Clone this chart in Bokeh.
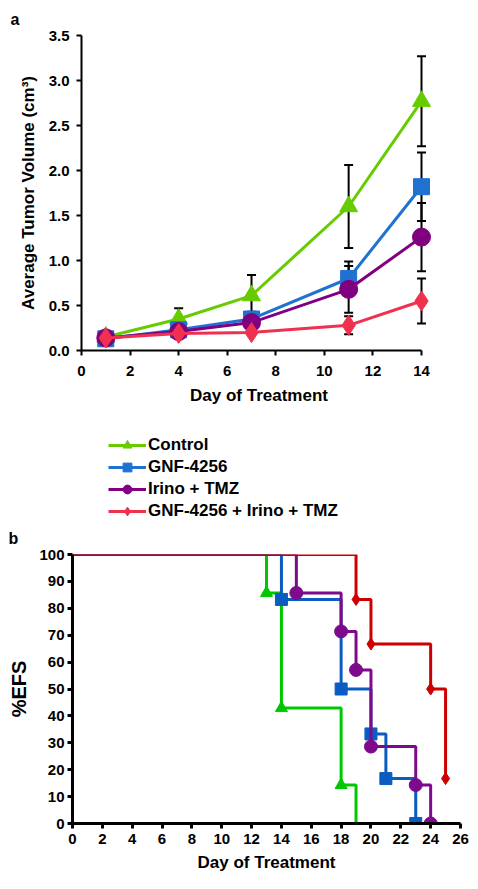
from bokeh.plotting import figure
from bokeh.models import (Legend, LegendItem, Whisker, ColumnDataSource, TeeHead,
                          FixedTicker, Range1d, NumeralTickFormatter)
from bokeh.layouts import column
from bokeh.embed import file_html
from bokeh.resources import INLINE

# ---------------- data: panel a (tumor volume) ----------------
days = [1, 4, 7, 11, 14]
series_names = ["Control", "GNF-4256", "Irino + TMZ", "GNF-4256 + Irino + TMZ"]
vol_control = [0.15, 0.35, 0.61, 1.60, 2.77]
err_control = [0.03, 0.12, 0.23, 0.46, 0.50]
vol_gnf = [0.13, 0.23, 0.35, 0.80, 1.82]
err_gnf = [0.02, 0.05, 0.08, 0.19, 0.38]
vol_irino = [0.14, 0.21, 0.31, 0.68, 1.26]
err_irino = [0.02, 0.04, 0.07, 0.26, 0.38]
vol_combo = [0.14, 0.19, 0.20, 0.28, 0.55]
err_combo = [0.02, 0.03, 0.04, 0.10, 0.25]
a_xticks = [0, 2, 4, 6, 8, 10, 12, 14]
a_yticks = [0.0, 0.5, 1.0, 1.5, 2.0, 2.5, 3.0, 3.5]

# ---------------- data: panel b (%EFS) ----------------
ctrl_t = [0, 13, 14, 18, 19]
ctrl_s = [100, 85.7, 42.9, 14.3, 0]
ctrl_marked = [False, True, True, True, False]
gnf_t = [0, 14, 18, 20, 21, 23]
gnf_s = [100, 83.3, 50, 33.3, 16.7, 0]
gnf_marked = [False, True, True, True, True, True]
irino_t = [0, 15, 18, 19, 20, 23, 24]
irino_s = [100, 85.7, 71.4, 57.1, 28.6, 14.3, 0]
irino_marked = [False, True, True, True, True, True, True]
combo_t = [0, 19, 20, 24, 25]
combo_s = [100, 83.3, 66.7, 50, 16.7]
combo_marked = [False, True, True, True, True]
b_xticks = list(range(0, 27, 2))
b_yticks = list(range(0, 101, 10))

FONT = "Liberation Sans"
colors_a = ["#66cc00", "#1f72d0", "#800080", "#f0304f"]
colors_b = ["#00c800", "#0a5cc0", "#7d0a8c", "#cc0000"]
markers = ["triangle", "square", "circle", "diamond"]


def style_axes(p, lw):
    for ax in (p.xaxis[0], p.yaxis[0]):
        ax.axis_line_width = lw
        ax.axis_line_color = "black"
        ax.major_tick_line_width = lw
        ax.major_tick_line_color = "black"
        ax.major_tick_in = 0
        ax.major_tick_out = 5
        ax.minor_tick_line_color = None
        ax.major_label_text_font = FONT
        ax.major_label_text_font_style = "bold"
        ax.major_label_text_font_size = "15px"
        ax.major_label_text_color = "black"
        ax.axis_label_text_font = FONT
        ax.axis_label_text_font_style = "bold"
        ax.axis_label_text_font_size = "17px"
        ax.axis_label_text_color = "black"
    p.xgrid.visible = False
    p.ygrid.visible = False
    p.outline_line_color = None
    p.title.text_font = FONT
    p.title.text_font_style = "bold"
    p.title.text_font_size = "16px"
    p.title.text_color = "black"
    p.title.align = "left"
    p.frame_align = False


# ---------------- panel a ----------------
pa = figure(title="a", output_backend="svg", toolbar_location=None,
            frame_width=355, frame_height=315,
            min_border_left=81, min_border_top=35, min_border_right=30, min_border_bottom=74,
            x_range=Range1d(0, 14.6176), y_range=Range1d(0, 3.5))
style_axes(pa, 2)
pa.title.offset = -71
pa.title.standoff = 16
pa.xaxis.bounds = (0, 14)
pa.xaxis.ticker = FixedTicker(ticks=a_xticks)
pa.yaxis.ticker = FixedTicker(ticks=a_yticks)
pa.yaxis.formatter = NumeralTickFormatter(format="0.0")
pa.xaxis.axis_label = "Day of Treatment"
pa.yaxis.axis_label = "Average Tumor Volume (cm³)"
pa.xaxis.major_label_standoff = 10
pa.yaxis.major_label_standoff = 7
pa.xaxis.axis_label_standoff = 7
pa.yaxis.axis_label_standoff = 8

# legend strip between the two panels
pl = figure(output_backend="svg", toolbar_location=None, width=466, height=96,
            min_border=0, x_axis_location=None, y_axis_location=None,
            x_range=Range1d(0, 1), y_range=Range1d(0, 1))
pl.xgrid.visible = False
pl.ygrid.visible = False
pl.outline_line_color = None
pl.frame_align = False

vols = [vol_control, vol_gnf, vol_irino, vol_combo]
errs = [err_control, err_gnf, err_irino, err_combo]
sizes_a = [18, 16, 18, 20]
items = []
for name, v, e, c, m, s in zip(series_names, vols, errs, colors_a, markers, sizes_a):
    src = ColumnDataSource(dict(x=days, y=v,
                                upper=[a + b for a, b in zip(v, e)],
                                lower=[a - b for a, b in zip(v, e)]))
    w = Whisker(source=src, base="x", upper="upper", lower="lower", dimension="height",
                line_color="black", line_width=2, level="underlay",
                upper_head=TeeHead(size=9, line_width=2, line_color="black"),
                lower_head=TeeHead(size=9, line_width=2, line_color="black"))
    pa.add_layout(w)
    pa.line("x", "y", source=src, line_color=c, line_width=3)
    pa.scatter("x", "y", source=src, marker=m, size=s, fill_color=c, line_color=c)
    # legend keys (same series, hidden in the strip; only their legend glyphs show)
    lr = pl.line("x", "y", source=src, line_color=c, line_width=3, visible=False)
    sr = pl.scatter("x", "y", source=src, marker=m, size=s, fill_color=c, line_color=c,
                    visible=False)
    items.append(LegendItem(label=name, renderers=[lr, sr]))

legend = Legend(items=items, location=(108, -2), orientation="vertical",
                label_text_font=FONT, label_text_font_style="bold", label_text_font_size="17px",
                label_text_color="black", glyph_width=38, glyph_height=22, spacing=0,
                label_standoff=2, margin=0, padding=2, border_line_color=None,
                background_fill_alpha=0, inactive_fill_alpha=0)
pl.add_layout(legend)

# ---------------- panel b ----------------
pb = figure(title="b", output_backend="svg", toolbar_location=None,
            frame_width=388, frame_height=269,
            min_border_left=72, min_border_top=34, min_border_right=12, min_border_bottom=58,
            x_range=Range1d(0, 26), y_range=Range1d(0, 100))
style_axes(pb, 3)
pb.title.offset = -64
pb.title.standoff = 15
pb.xaxis.ticker = FixedTicker(ticks=b_xticks)
pb.yaxis.ticker = FixedTicker(ticks=b_yticks)
pb.xaxis.axis_label = "Day of Treatment"
pb.yaxis.axis_label = "%EFS"
pb.yaxis.axis_label_text_font_size = "20px"
pb.xaxis.major_label_standoff = 5
pb.yaxis.major_label_standoff = 3
pb.xaxis.axis_label_standoff = 6
pb.yaxis.axis_label_standoff = 6

curves = [(ctrl_t, ctrl_s, ctrl_marked), (gnf_t, gnf_s, gnf_marked),
          (irino_t, irino_s, irino_marked), (combo_t, combo_s, combo_marked)]
sizes_b = [12, 12, 13, 12]
for (t, s, mk), c, m, sz in zip(curves, colors_b, markers, sizes_b):
    pb.step(t, s, mode="after", line_color=c, line_width=3)
    mt = [a for a, f in zip(t, mk) if f]
    ms = [b for b, f in zip(s, mk) if f]
    pb.scatter(mt, ms, marker=m, size=sz, fill_color=c, line_color=c)

layout = column(pa, pl, pb, spacing=0)
open("out.html", "w").write(file_html(layout, INLINE))
